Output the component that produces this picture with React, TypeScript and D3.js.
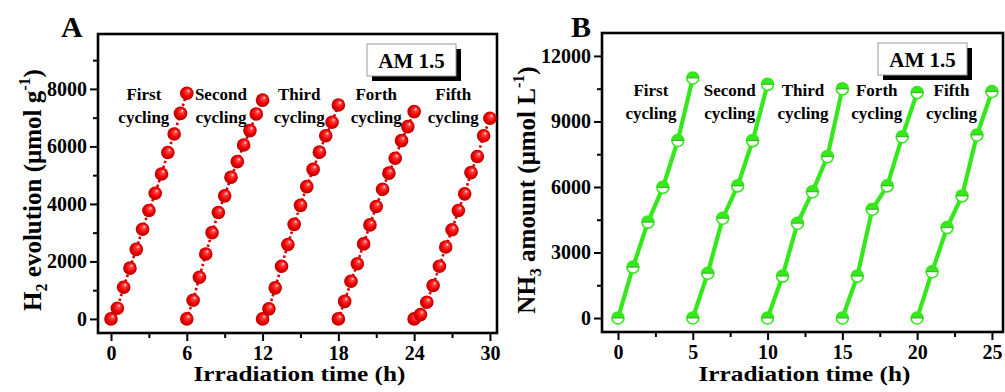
import React, { useRef, useEffect } from 'react';
import * as d3 from 'd3';

const cycleNames = ['First', 'Second', 'Third', 'Forth', 'Fifth'];

// panel A: H2 evolution (umol g-1), one point every 0.5 h inside each 6 h cycle
const h2CycleStarts = [0, 6, 12, 18, 24];
const h2Offsets = [0, 0.5, 1, 1.5, 2, 2.5, 3, 3.5, 4, 4.5, 5, 5.5, 6];
const h2First = [0, 372, 1100, 1765, 2420, 3120, 3770, 4370, 5040, 5790, 6430, 7150, 7850];
const h2Second = [0, 650, 1450, 2260, 3000, 3700, 4280, 4930, 5470, 6050, 6550, 7130, 7610];
const h2Third = [0, 350, 1080, 1830, 2590, 3290, 3950, 4600, 5200, 5800, 6370, 6840, 7440];
const h2Fourth = [0, 610, 1310, 1920, 2610, 3270, 3910, 4510, 5070, 5590, 6200, 6690, 7210];
const h2Fifth = [0, 150, 580, 1160, 1830, 2500, 3100, 3770, 4350, 5090, 5650, 6370, 6980];
const h2XTicks = [0, 6, 12, 18, 24, 30];
const h2XMinor = [3, 9, 15, 21, 27];
const h2YTicks = [0, 2000, 4000, 6000, 8000];
const h2YMinor = [1000, 3000, 5000, 7000, 9000];
const h2LabelX = [2.6, 8.7, 14.9, 21.0, 27.1];
const h2LabelY = [7620, 6820];

// panel B: NH3 amount (umol L-1), one point per hour inside each 5 h cycle
const nh3CycleStarts = [0, 5, 10, 15, 20];
const nh3Offsets = [0, 1, 2, 3, 4, 5];
const nh3First = [0, 2330, 4390, 5980, 8130, 10990];
const nh3Second = [0, 2050, 4570, 6050, 8120, 10700];
const nh3Third = [0, 1920, 4340, 5780, 7390, 10490];
const nh3Fourth = [0, 1920, 4980, 6050, 8300, 10320];
const nh3Fifth = [0, 2120, 4140, 5590, 8380, 10370];
const nh3XTicks = [0, 5, 10, 15, 20, 25];
const nh3XMinor = [2.5, 7.5, 12.5, 17.5, 22.5];
const nh3YTicks = [0, 3000, 6000, 9000, 12000];
const nh3YMinor = [1500, 4500, 7500, 10500];
const nh3LabelX = [2.2, 7.47, 12.37, 17.3, 22.3];
const nh3LabelY = [10170, 9115];

const FONT = "'Liberation Serif', 'Times New Roman', serif";
const GREEN = '#35e81c';

const drawPanel = (svg, cfg) => {
  const x = d3.scaleLinear().domain(cfg.xDomain).range([cfg.left, cfg.right]);
  const y = d3.scaleLinear().domain(cfg.yDomain).range([cfg.bottom, cfg.top]);
  const g = svg.append('g');

  // axes (ticks outward, labels only on major)
  const styleAxis = (ax) => {
    ax.select('.domain').remove();
    ax.selectAll('line').attr('stroke', '#000').attr('stroke-width', 2);
    ax.selectAll('text')
      .attr('font-family', FONT)
      .attr('font-weight', 'bold')
      .attr('font-size', 20)
      .attr('fill', '#000');
  };
  styleAxis(g.append('g').attr('transform', `translate(0,${cfg.bottom})`)
    .call(d3.axisBottom(x).tickValues(cfg.xTicks).tickSize(8).tickPadding(5).tickFormat(d3.format('d'))));
  styleAxis(g.append('g').attr('transform', `translate(0,${cfg.bottom})`)
    .call(d3.axisBottom(x).tickValues(cfg.xMinor).tickSize(5).tickFormat(() => '')));
  styleAxis(g.append('g').attr('transform', `translate(${cfg.left},0)`)
    .call(d3.axisLeft(y).tickValues(cfg.yTicks).tickSize(8).tickPadding(3).tickFormat(d3.format('d'))));
  styleAxis(g.append('g').attr('transform', `translate(${cfg.left},0)`)
    .call(d3.axisLeft(y).tickValues(cfg.yMinor).tickSize(5).tickFormat(() => '')));

  // frame
  g.append('rect')
    .attr('x', cfg.left).attr('y', cfg.top)
    .attr('width', cfg.right - cfg.left).attr('height', cfg.bottom - cfg.top)
    .attr('fill', 'none').attr('stroke', '#000').attr('stroke-width', 2.6);

  // cycles
  const line = d3.line().x((d) => x(d[0])).y((d) => y(d[1]));
  cfg.series.forEach((vals, i) => {
    const pts = vals.map((v, j) => [cfg.starts[i] + cfg.offsets[j], v]);
    if (cfg.kind === 'ball') {
      g.append('path').attr('d', line(pts)).attr('fill', 'none')
        .attr('stroke', '#d80000').attr('stroke-width', 2.6).attr('stroke-dasharray', '2.5,2.5');
      g.selectAll(null).data(pts).enter().append('circle')
        .attr('cx', (d) => x(d[0])).attr('cy', (d) => y(d[1]))
        .attr('r', 6.8).attr('fill', 'url(#ball)');
    } else {
      g.append('path').attr('d', line(pts)).attr('fill', 'none')
        .attr('stroke', GREEN).attr('stroke-width', 4.2);
      const half = d3.arc().innerRadius(0).outerRadius(6).startAngle(-Math.PI / 2).endAngle(Math.PI / 2);
      const m = g.selectAll(null).data(pts).enter().append('g')
        .attr('transform', (d) => `translate(${x(d[0])},${y(d[1])})`);
      m.append('circle').attr('r', 6).attr('fill', '#fff').attr('stroke', GREEN).attr('stroke-width', 1.6);
      m.append('path').attr('d', half()).attr('fill', GREEN);
      m.append('line').attr('x1', -6).attr('x2', 6).attr('stroke', '#2a9a18').attr('stroke-width', 0.8);
    }
    // cycle label
    const t = g.append('text').attr('font-family', FONT).attr('font-weight', 'bold')
      .attr('font-size', 17).attr('text-anchor', 'middle').attr('fill', '#000');
    t.append('tspan').attr('x', x(cfg.labelX[i])).attr('y', y(cfg.labelY[0])).text(cycleNames[i]);
    t.append('tspan').attr('x', x(cfg.labelX[i])).attr('y', y(cfg.labelY[1])).text('cycling');
  });

  // AM 1.5 box
  const bx = cfg.right - cfg.boxInset - 89;
  const by = cfg.top + 10;
  g.append('rect').attr('x', bx + 5).attr('y', by + 5).attr('width', 89).attr('height', 32).attr('fill', '#000');
  g.append('rect').attr('x', bx).attr('y', by).attr('width', 89).attr('height', 32)
    .attr('fill', '#fff').attr('stroke', '#999').attr('stroke-width', 1);
  g.append('text').attr('x', bx + 44.5).attr('y', by + 23.5).attr('text-anchor', 'middle')
    .attr('font-family', FONT).attr('font-weight', 'bold').attr('font-size', 21).text('AM 1.5');

  // panel letter
  g.append('text').attr('x', cfg.letterX).attr('y', 37).attr('font-family', FONT)
    .attr('font-weight', 'bold').attr('font-size', 30).text(cfg.letter);

  // x title
  g.append('text').attr('x', (cfg.left + cfg.right) / 2 + 2).attr('y', 381).attr('text-anchor', 'middle')
    .attr('font-family', FONT).attr('font-weight', 'bold').attr('font-size', 21)
    .attr('textLength', 212).attr('lengthAdjust', 'spacingAndGlyphs')
    .text('Irradiation time (h)');

  // y title
  const yt = g.append('text').attr('transform', `translate(${cfg.yTitleX},190) rotate(-90)`)
    .attr('text-anchor', 'middle').attr('font-family', FONT).attr('font-weight', 'bold').attr('font-size', 25);
  yt.append('tspan').text(cfg.yTitle[0]);
  yt.append('tspan').attr('font-size', 16).attr('dy', 6).text(cfg.yTitle[1]);
  yt.append('tspan').attr('dy', -6).text(cfg.yTitle[2]);
  yt.append('tspan').attr('font-size', 16).attr('dy', -11).text('-1');
  yt.append('tspan').attr('dy', 11).text(')');
};

const App = () => {
  const ref = useRef(null);

  useEffect(() => {
    const svg = d3.select(ref.current);
    svg.selectAll('*').remove();

    const defs = svg.append('defs');
    const grad = defs.append('radialGradient').attr('id', 'ball')
      .attr('cx', '50%').attr('cy', '50%').attr('r', '50%').attr('fx', '64%').attr('fy', '30%');
    grad.append('stop').attr('offset', '0%').attr('stop-color', '#ffffff');
    grad.append('stop').attr('offset', '22%').attr('stop-color', '#ff4a4a');
    grad.append('stop').attr('offset', '65%').attr('stop-color', '#f20000');
    grad.append('stop').attr('offset', '100%').attr('stop-color', '#b00000');

    drawPanel(svg, {
      kind: 'ball', letter: 'A', letterX: 61,
      left: 98, right: 497, top: 34, bottom: 333,
      xDomain: [-1.03, 30.56], yDomain: [-490, 9910],
      xTicks: h2XTicks, xMinor: h2XMinor, yTicks: h2YTicks, yMinor: h2YMinor,
      starts: h2CycleStarts, offsets: h2Offsets,
      series: [h2First, h2Second, h2Third, h2Fourth, h2Fifth],
      labelX: h2LabelX, labelY: h2LabelY, boxInset: 41,
      yTitleX: 41, yTitle: ['H', '2', ' evolution (μmol  g'],
    });

    drawPanel(svg, {
      kind: 'half', letter: 'B', letterX: 571,
      left: 602, right: 1003, top: 33, bottom: 332,
      xDomain: [-1.07, 25.74], yDomain: [-640, 13050],
      xTicks: nh3XTicks, xMinor: nh3XMinor, yTicks: nh3YTicks, yMinor: nh3YMinor,
      starts: nh3CycleStarts, offsets: nh3Offsets,
      series: [nh3First, nh3Second, nh3Third, nh3Fourth, nh3Fifth],
      labelX: nh3LabelX, labelY: nh3LabelY, boxInset: 36,
      yTitleX: 535, yTitle: ['NH', '3', ' amount (μmol L'],
    });
  }, []);

  return (
    <svg ref={ref} width={1005} height={392}
      style={{ position: 'absolute', left: 0, top: 0, background: '#fff' }} />
  );
};

export default App;
